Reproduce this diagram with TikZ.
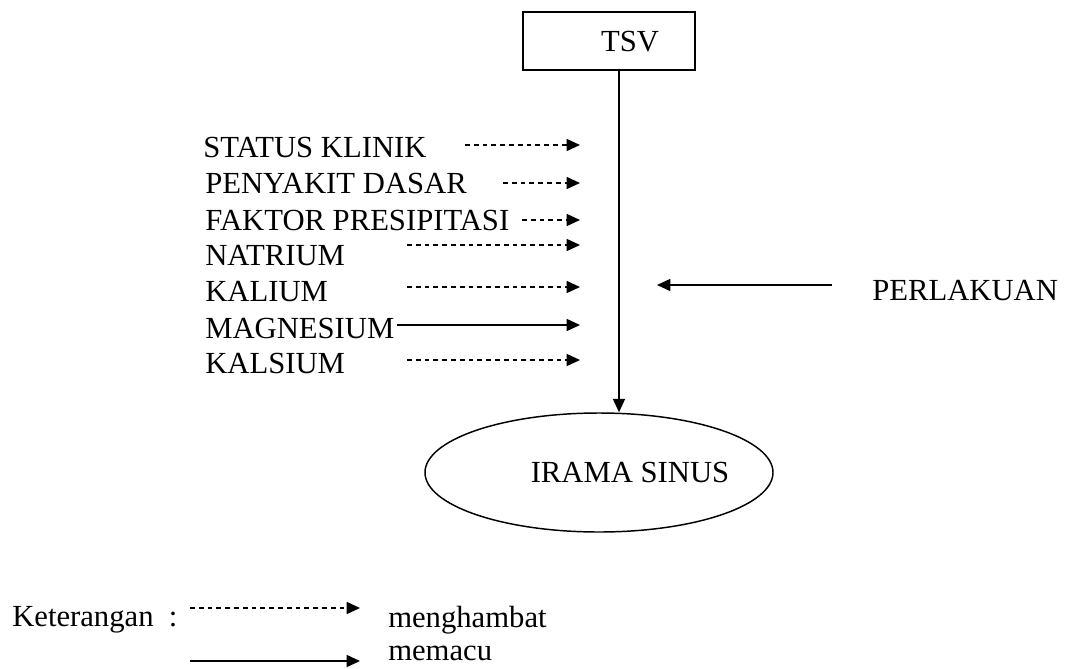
\documentclass[tikz,border=0pt]{standalone}
\usepackage{fontspec}
\setmainfont{Liberation Serif}
\usetikzlibrary{arrows.meta,shapes.geometric}
\begin{document}
\begin{tikzpicture}[x=0.75pt,y=-0.75pt,
  lbl/.style={anchor=base west,inner sep=0pt,font=\fontsize{23}{27}\selectfont},
  tip/.style={-{Triangle[length=10pt,width=9pt]}},
  dasharrow/.style={line width=1.1pt,dash pattern=on 3.6pt off 3pt,tip},
  solidarrow/.style={line width=1.1pt,tip},
  boxnode/.style={draw,line width=1.1pt,minimum width=129pt,minimum height=43.5pt,inner sep=0pt},
  ellnode/.style={draw,line width=1.1pt,ellipse,minimum width=261pt,minimum height=89.25pt,inner sep=0pt}]
\useasboundingbox (0,0) rectangle (1068,668);
% top box
\node[boxnode] (tsv) at (609,41) {};
\node[lbl,anchor=base] (tsvt) at (630,51) {TSV};
% ellipse
\node[ellnode] (irama) at (599,472.5) {};
\node[lbl,anchor=base] (iramat) at (630,482) {IRAMA SINUS};
% main vertical arrow
\draw[solidarrow] ([xshift=7.5pt]tsv.south) -- ([xshift=7.5pt]tsv.south |- irama.north);
% left factors
\node[lbl] (f1) at (203,157) {STATUS KLINIK};
\node[lbl] (f2) at (205,193) {PENYAKIT DASAR};
\node[lbl] (f3) at (205,230) {FAKTOR PRESIPITASI};
\node[lbl] (f4) at (205,265) {NATRIUM};
\node[lbl] (f5) at (205,301) {KALIUM};
\node[lbl] (f6) at (205,338) {MAGNESIUM};
\node[lbl] (f7) at (205,373) {KALSIUM};
\coordinate (s1) at (465,145); \coordinate (e1) at (580,145);
\coordinate (s2) at (503,183); \coordinate (e2) at (580,183);
\coordinate (s3) at (522,220); \coordinate (e3) at (580,220);
\coordinate (s4) at (407,245); \coordinate (e4) at (580,245);
\coordinate (s5) at (407,287); \coordinate (e5) at (580,287);
\coordinate (s6) at (397,325); \coordinate (e6) at (580,325);
\coordinate (s7) at (407,360); \coordinate (e7) at (580,360);
\draw[dasharrow] (s1) -- (e1);
\draw[dasharrow] (s2) -- (e2);
\draw[dasharrow] (s3) -- (e3);
\draw[dasharrow] (s4) -- (e4);
\draw[dasharrow] (s5) -- (e5);
\draw[solidarrow] (s6) -- (e6);
\draw[dasharrow] (s7) -- (e7);
% perlakuan
\node[lbl] (perl) at (872,300) {PERLAKUAN};
\coordinate (ps) at (832,285); \coordinate (pe) at (657,285);
\draw[solidarrow] (ps) -- (pe);
% legend
\node[lbl] (ket) at (12,626) {Keterangan~~:};
\coordinate (ls1) at (190,608); \coordinate (le1) at (360,608);
\coordinate (ls2) at (190,661); \coordinate (le2) at (360,661);
\draw[dasharrow] (ls1) -- (le1);
\draw[solidarrow] (ls2) -- (le2);
\node[lbl] (mh) at (388,627) {menghambat};
\node[lbl] (mc) at (388,660) {memacu};
\end{tikzpicture}
\end{document}
